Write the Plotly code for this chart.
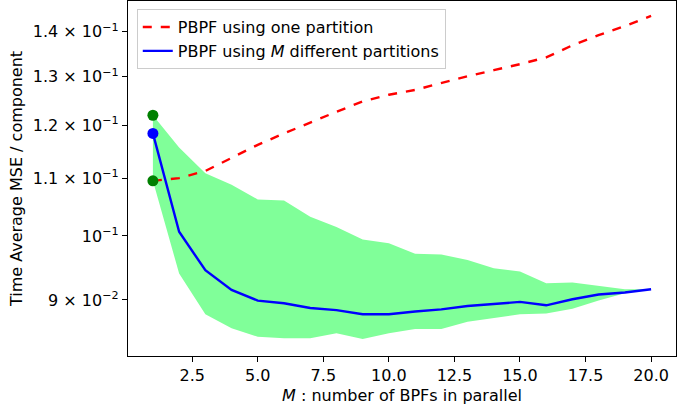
import plotly.graph_objects as go

M = list(range(1, 21))
one_partition = [0.1095, 0.1100, 0.1113, 0.1138, 0.1162, 0.1184, 0.1206, 0.1227, 0.1248, 0.1262,
                 0.1272, 0.1287, 0.1301, 0.1314, 0.1327, 0.1342, 0.1369, 0.1392, 0.1413, 0.1437]
m_partitions = [0.1184, 0.1007, 0.0945, 0.0915, 0.0899, 0.0895, 0.0888, 0.0885, 0.0879, 0.0879,
                0.0883, 0.0886, 0.0891, 0.0894, 0.0897, 0.0892, 0.0901, 0.0908, 0.0911, 0.0916]
band_upper = [0.1220, 0.1157, 0.1109, 0.1088, 0.1062, 0.1060, 0.1032, 0.1015, 0.0994, 0.0988,
              0.0971, 0.0970, 0.0961, 0.0948, 0.0943, 0.0925, 0.0926, 0.0921, 0.0916, 0.0916]
band_lower = [0.1095, 0.0940, 0.0879, 0.0859, 0.0847, 0.0845, 0.0845, 0.0852, 0.0844, 0.0852,
              0.0858, 0.0858, 0.0868, 0.0874, 0.0879, 0.0880, 0.0887, 0.0899, 0.0910, 0.0916]
start_green = [band_upper[0], band_lower[0]]
start_blue = [m_partitions[0]]

ytick_vals = [0.09, 0.1, 0.11, 0.12, 0.13, 0.14]
ytick_text = ["9 × 10<sup>−2</sup>", "10<sup>−1</sup>", "1.1 × 10<sup>−1</sup>",
              "1.2 × 10<sup>−1</sup>", "1.3 × 10<sup>−1</sup>", "1.4 × 10<sup>−1</sup>"]
xtick_vals = [2.5, 5.0, 7.5, 10.0, 12.5, 15.0, 17.5, 20.0]

FONT = "DejaVu Sans"
FS = 16
fill_color = "rgb(128,255,153)"

fig = go.Figure()
fig.add_trace(go.Scatter(x=M, y=band_lower, mode="lines", line=dict(width=0, color=fill_color),
                         showlegend=False, hoverinfo="skip"))
fig.add_trace(go.Scatter(x=M, y=band_upper, mode="lines", line=dict(width=0, color=fill_color),
                         fill="tonexty", fillcolor=fill_color, showlegend=False, hoverinfo="skip"))
fig.add_trace(go.Scatter(x=M, y=one_partition, mode="lines", name="PBPF using one partition",
                         line=dict(color="red", width=2.4, dash="dash")))
fig.add_trace(go.Scatter(x=M, y=m_partitions, mode="lines", name="PBPF using <i>M</i> different partitions",
                         line=dict(color="blue", width=2.4)))
fig.add_trace(go.Scatter(x=[M[0]] * 2, y=start_green, mode="markers", showlegend=False,
                         marker=dict(color="green", size=11)))
fig.add_trace(go.Scatter(x=[M[0]], y=start_blue, mode="markers", showlegend=False,
                         marker=dict(color="blue", size=11)))

fig.update_layout(
    width=700, height=415,
    margin=dict(l=128, r=24, t=1, b=59, autoexpand=False),
    paper_bgcolor="white", plot_bgcolor="white",
    font=dict(family=FONT, size=FS, color="black"),
    legend=dict(x=0.016, y=0.977, xanchor="left", yanchor="top", traceorder="normal",
                bgcolor="rgba(255,255,255,0.8)", bordercolor="#cccccc", borderwidth=1,
                font=dict(family=FONT, size=FS), tracegroupgap=0),
    xaxis=dict(range=[0.05, 20.95], tickvals=xtick_vals, tickformat=".1f", automargin=False,
               showgrid=False, zeroline=False, showline=True, linecolor="black", linewidth=1.2,
               mirror=True, ticks="outside", ticklen=5, tickcolor="black",
               title=dict(text="<i>M</i> : number of BPFs in parallel", standoff=5,
                          font=dict(family=FONT, size=FS))),
    yaxis=dict(type="log", range=[-1.0859, -0.8319], tickvals=ytick_vals, ticktext=ytick_text,
               automargin=False,
               showgrid=False, zeroline=False, showline=True, linecolor="black", linewidth=1.2,
               mirror=True, ticks="outside", ticklen=5, tickcolor="black",
               title=dict(text="Time Average MSE / component", standoff=6,
                          font=dict(family=FONT, size=FS))),
)

fig.write_html("out.html", config={"displayModeBar": False},
               post_script="document.body.style.margin='0px';")
